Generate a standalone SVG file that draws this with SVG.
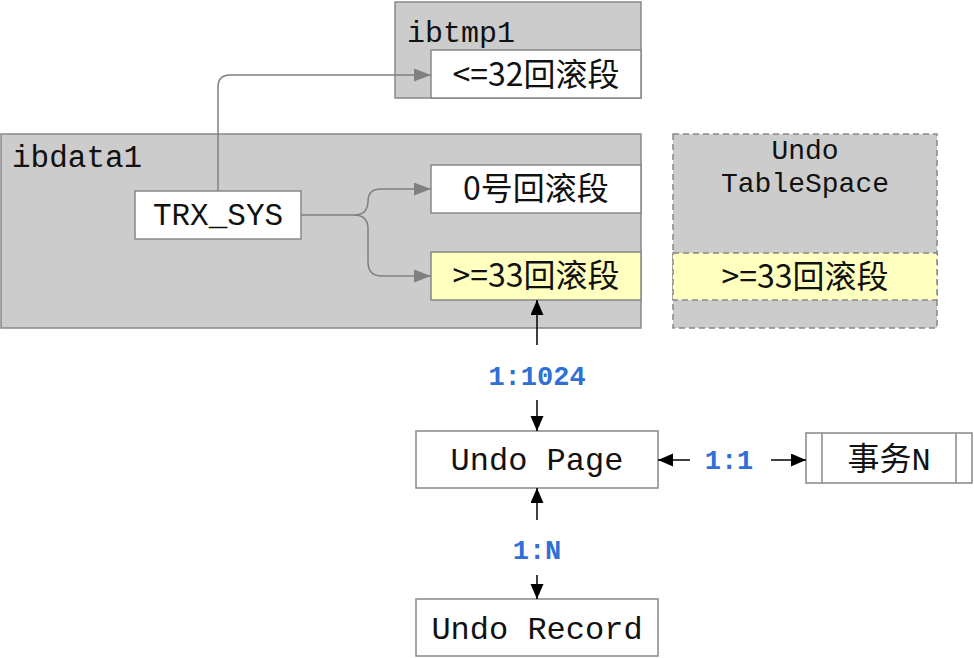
<svg xmlns="http://www.w3.org/2000/svg" width="974" height="658" viewBox="0 0 974 658">
<style>
.cont{fill:#cccccc;stroke:#888888;stroke-width:1.5}
.box{fill:#ffffff;stroke:#888888;stroke-width:1.5}
.yel{fill:#ffffc0;stroke:#888888;stroke-width:1.5}
.dash{stroke-dasharray:6 4}
.mono{font-family:"Liberation Mono","Noto Sans CJK SC",monospace;fill:#111}
.cjk{font-family:"Noto Sans CJK SC","Noto Sans",sans-serif;font-size:32px;fill:#111;text-anchor:middle}
.lbl{font-family:"Liberation Mono",monospace;font-size:27px;font-weight:bold;fill:#2f6fd6;text-anchor:middle}
.g{fill:none;stroke:#808080;stroke-width:1.5}
.k{fill:none;stroke:#000;stroke-width:1.5}
</style>
<defs>
<marker id="ag" markerUnits="userSpaceOnUse" markerWidth="18" markerHeight="14" refX="17" refY="6.5" orient="auto">
<path d="M0,0 L17,6.5 L0,13 z" fill="#808080"/>
</marker>
<marker id="ak" markerUnits="userSpaceOnUse" markerWidth="16" markerHeight="14" refX="15" refY="6.5" orient="auto">
<path d="M0,0 L15,6.5 L0,13 z" fill="#000"/>
</marker>
</defs>

<g id="ibtmp1">
<rect class="cont" x="395" y="2" width="246" height="96"/>
<text class="mono" x="407" y="42" font-size="30">ibtmp1</text>
</g>
<g id="rseg32">
<rect class="box" x="431" y="50" width="210" height="48"/>
<text class="cjk" x="536" y="86">&lt;=32回滚段</text>
</g>

<g id="ibdata1">
<rect class="cont" x="1" y="134" width="640" height="194"/>
<text class="mono" x="12" y="167" font-size="31">ibdata1</text>
</g>
<g id="trxsys">
<rect class="box" x="135" y="191" width="166" height="48"/>
<text class="mono" x="218" y="225" font-size="31" text-anchor="middle">TRX_SYS</text>
</g>
<g id="rseg0">
<rect class="box" x="431" y="165" width="210" height="48"/>
<text class="cjk" x="536" y="200">0号回滚段</text>
</g>
<g id="rseg33">
<rect class="yel" x="431" y="252" width="210" height="48"/>
<text class="cjk" x="536" y="287">&gt;=33回滚段</text>
</g>

<g id="undots">
<rect class="cont dash" x="673" y="134" width="264" height="194"/>
<text class="mono" x="805" y="159" font-size="28" text-anchor="middle">Undo</text>
<text class="mono" x="805" y="192" font-size="28" text-anchor="middle">TableSpace</text>
</g>
<g id="undots-rseg33">
<rect class="yel dash" x="673" y="253" width="264" height="47"/>
<text class="cjk" x="805" y="288">&gt;=33回滚段</text>
</g>

<g id="undopage">
<rect class="box" x="416" y="431" width="242" height="57"/>
<text class="mono" x="537" y="470" font-size="32" text-anchor="middle">Undo Page</text>
</g>
<g id="trxn">
<rect class="box" x="806" y="433" width="166" height="50"/>
<line x1="822" y1="433" x2="822" y2="483" stroke="#888" stroke-width="1.5"/>
<line x1="956" y1="433" x2="956" y2="483" stroke="#888" stroke-width="1.5"/>
<text class="mono" x="889" y="470" font-size="32" text-anchor="middle">事务N</text>
</g>
<g id="undorecord">
<rect class="box" x="416" y="599" width="242" height="57"/>
<text class="mono" x="537" y="639" font-size="32" text-anchor="middle">Undo Record</text>
</g>

<g id="connectors">
<path class="g" d="M218,191 L218,87 Q218,75 230,75 L431,75" marker-end="url(#ag)"/>
<path class="g" d="M301,215 L354,215 Q368,215 368,201 Q368,189 381,189 L431,189" marker-end="url(#ag)"/>
<path class="g" d="M354,215 Q368,215 368,229 L368,262 Q368,276 382,276 L431,276" marker-end="url(#ag)"/>
<path class="k" d="M537,345 L537,300" marker-end="url(#ak)"/>
<path class="k" d="M537,400 L537,431" marker-end="url(#ak)"/>
<text class="lbl" x="537" y="385">1:1024</text>
<path class="k" d="M537,520 L537,488" marker-end="url(#ak)"/>
<path class="k" d="M537,575 L537,599" marker-end="url(#ak)"/>
<text class="lbl" x="537" y="559">1:N</text>
<path class="k" d="M690,460 L658,460" marker-end="url(#ak)"/>
<path class="k" d="M771,460 L806,460" marker-end="url(#ak)"/>
<text class="lbl" x="729" y="469">1:1</text>
</g>
</svg>
